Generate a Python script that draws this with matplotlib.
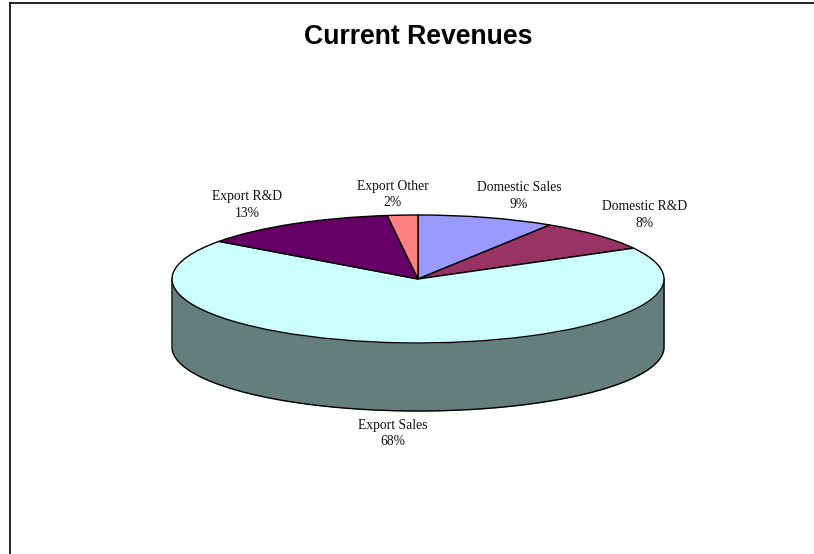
import numpy as np
import matplotlib
matplotlib.use('Agg')
import matplotlib.pyplot as plt
from matplotlib.lines import Line2D

categories = ['Domestic Sales', 'Domestic R&D', 'Export Sales', 'Export R&D', 'Export Other']
values = [9, 8, 68, 13, 2]
colors = ['#9999FF', '#993366', '#CCFFFF', '#660066', '#FF8080']

W, H = 814, 554
cx, cy = 418, 279      # centre of the top face, pixels
rx, ry = 246, 64       # radii of the top face, pixels
depth = 68 / ry        # wall height in pie radii

# label centres in pixels
label_xy = [(519, 196), (645, 215), (393, 433.5), (247, 205), (393, 194.5)]

fig = plt.figure(figsize=(W / 100, H / 100), dpi=100)
ax = fig.add_axes([0, 0, 1, 1])

wedges, _ = ax.pie(values, colors=colors, startangle=90, counterclock=False,
                   wedgeprops={'edgecolor': 'k', 'linewidth': 1.0, 'zorder': 3})

# squash the circle into an ellipse
ax.set_aspect('auto')
ax.set_xlim(-cx / rx, (W - cx) / rx)
ax.set_ylim(-(H - cy) / ry, cy / ry)

# side wall: the part of each wedge facing the viewer
for w in wedges:
    t1, t2 = max(w.theta1 % 360, 180), min(w.theta2 % 360 or 360, 360)
    if w.theta1 < 0 and w.theta2 > 0:
        t1, t2 = 180, 360
    if t2 <= t1:
        continue
    t = np.radians(np.linspace(t1, t2, 200))
    x, y = np.cos(t), np.sin(t)
    r, g, b, _a = w.get_facecolor()
    ax.fill_between(x, y, y - depth, color=(r * 0.49, g * 0.49, b * 0.49), linewidth=0, zorder=1)
    # outline goes down one side, along the bottom and back up the other
    ax.plot(np.r_[x[0], x, x[-1]], np.r_[y[0], y - depth, y[-1]], color='k', lw=1.0, zorder=2)

for name, v, (x, y) in zip(categories, values, label_xy):
    fig.text(x / W, 1 - y / H, '%s\n%d%%' % (name, v), ha='center', va='center',
             family='Liberation Serif', fontsize=9.8, linespacing=1.34, color='#111111')

fig.text(418 / W, 1 - 37 / H, 'Current Revenues', ha='center', va='center',
         family='Liberation Sans', fontweight='bold', fontsize=19.2, color='k')

# chart area border
fig.add_artist(Line2D([10 / W, 10 / W], [0, 1 - 3 / H], color='k', lw=1.2))
fig.add_artist(Line2D([10 / W, 1], [1 - 3 / H, 1 - 3 / H], color='k', lw=1.2))

fig.savefig('out.png', dpi=100)
